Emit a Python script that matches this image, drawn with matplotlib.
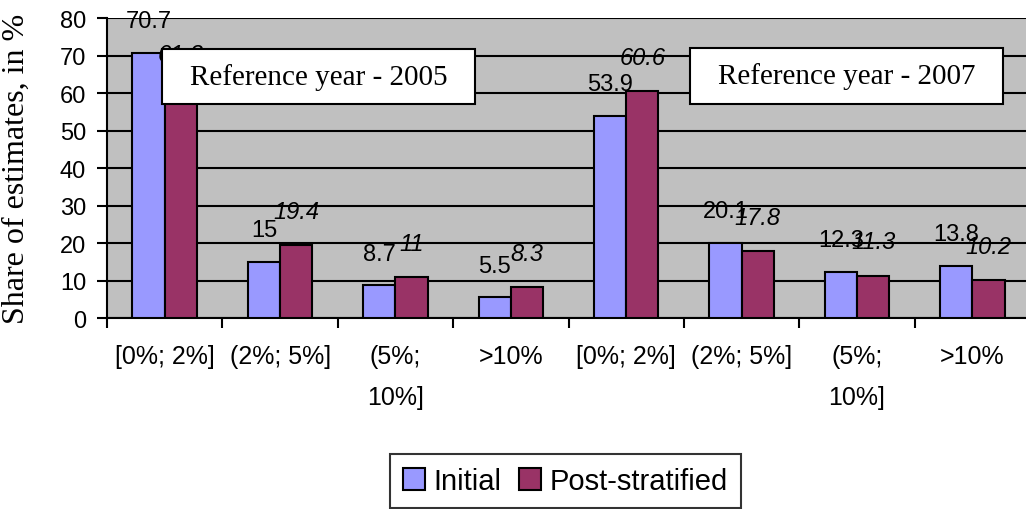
import numpy as np
import matplotlib
matplotlib.use("Agg")
import matplotlib.pyplot as plt
from matplotlib.patches import Rectangle

# share of estimates by size of revision, two reference years side by side
categories = ["[0%; 2%]", "(2%; 5%]", "(5%;\n10%]", ">10%",
              "[0%; 2%]", "(2%; 5%]", "(5%;\n10%]", ">10%"]
initial = [70.7, 15, 8.7, 5.5, 53.9, 20.1, 12.3, 13.8]
post_stratified = [61.3, 19.4, 11, 8.3, 60.6, 17.8, 11.3, 10.2]
initial_labels = ["70.7", "15", "8.7", "5.5", "53.9", "20.1", "12.3", "13.8"]
post_labels = ["61.3", "19.4", "11", "8.3", "60.6", "17.8", "11.3", "10.2"]

sans = "Liberation Sans"
serif = "Liberation Serif"

fig = plt.figure(figsize=(10.26, 5.10), dpi=100)
ax = fig.add_axes([0.1043, 0.3745, 0.8996, 0.5882])
ax.set_facecolor("#C0C0C0")

x = np.arange(len(categories))
w = 0.28
b1 = ax.bar(x - w / 2, initial, w, color="#9999FF", edgecolor="black",
            linewidth=1.5, label="Initial", zorder=3)
b2 = ax.bar(x + w / 2, post_stratified, w, color="#993366", edgecolor="black",
            linewidth=1.5, label="Post-stratified", zorder=3)

for rect, txt in zip(b1, initial_labels):
    ax.annotate(txt, (rect.get_x() + rect.get_width() / 2, rect.get_height()),
                xytext=(0, 15), textcoords="offset points", ha="center",
                va="bottom", fontsize=17, family=sans, zorder=4)
for rect, txt in zip(b2, post_labels):
    ax.annotate(txt, (rect.get_x() + rect.get_width() / 2, rect.get_height()),
                xytext=(0, 16), textcoords="offset points", ha="center",
                va="bottom", fontsize=17, family=sans, style="italic", zorder=4)

ax.set_ylim(0, 80)
ax.set_xlim(-0.5, 7.5)
ax.set_yticks(range(0, 81, 10))
ax.yaxis.grid(True, color="black", linewidth=1.5, zorder=0)
ax.set_axisbelow(True)

ax.set_xticks(x)
ax.set_xticklabels(categories, family=sans, fontsize=18, linespacing=1.9)
ax.set_xticks(np.arange(-0.5, 8, 1), minor=True)
ax.tick_params(axis="x", which="major", length=0, pad=19)
ax.tick_params(axis="x", which="minor", length=7, width=1.5, direction="out")
ax.tick_params(axis="y", length=7, width=1.5, direction="out", labelsize=17, pad=8)
for lab in ax.get_yticklabels():
    lab.set_family(sans)

for side in ("top", "right"):
    ax.spines[side].set_visible(False)
for side in ("left", "bottom"):
    ax.spines[side].set_linewidth(1.5)

ax.set_ylabel("Share of estimates, in %", family=serif, fontsize=23)
ax.yaxis.set_label_coords(-0.082, 0.5)


def ref_box(x0, x1, y0, y1, text):
    ax.add_patch(Rectangle((x0, y0), x1 - x0, y1 - y0, facecolor="white",
                           edgecolor="black", linewidth=1.5, zorder=6))
    ax.text((x0 + x1) / 2, (y0 + y1) / 2, text, ha="center", va="center",
            family=serif, fontsize=21, zorder=7)


ref_box(-0.023, 2.69, 57.1, 71.7, "Reference year - 2005")
ref_box(4.552, 7.266, 57.1, 72.0, "Reference year - 2007")

leg = fig.legend(handles=[b1, b2], loc="upper left",
                 bbox_to_anchor=(0.380, 0.108), ncol=2, frameon=True,
                 fancybox=False, prop={"family": sans, "size": 21},
                 handlelength=0.75, handleheight=0.75, handletextpad=0.3,
                 columnspacing=0.6, borderpad=0.45, borderaxespad=0)
leg.get_frame().set_edgecolor("black")
leg.get_frame().set_linewidth(1.5)

fig.savefig("out.png", dpi=100)
